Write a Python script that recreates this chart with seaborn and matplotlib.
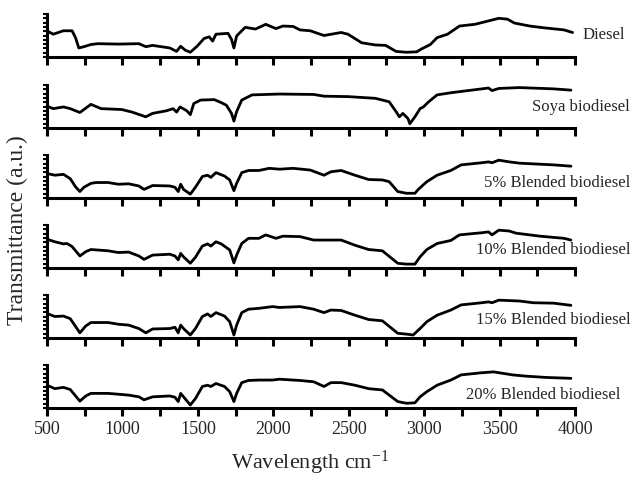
import numpy as np
import pandas as pd
import matplotlib
matplotlib.use("Agg")
import matplotlib.pyplot as plt
import seaborn as sns

# ---- data (wavenumber cm^-1, transmittance a.u.) ----
diesel_wn = [500, 541, 609, 666, 689, 711, 745, 791, 836, 973, 1109, 1155, 1200, 1314, 1359, 1386, 1416, 1450,
             1495, 1541, 1575, 1598, 1620, 1700, 1723, 1739, 1757, 1814, 1882, 1950, 2018, 2064, 2132, 2177,
             2245, 2336, 2450, 2495, 2586, 2677, 2745, 2814, 2882, 2950, 2984, 3041, 3086, 3155, 3234, 3336,
             3405, 3495, 3552, 3598, 3700, 3791, 3927, 3984]
diesel_t = [61, 53, 61, 61, 45, 21, 24, 29, 31, 30, 31, 24, 27, 21, 13, 25, 16, 11,
            25, 43, 47, 37, 53, 55, 41, 21, 49, 69, 65, 76, 66, 72, 71, 63,
            61, 50, 57, 53, 33, 28, 27, 13, 11, 12, 19, 29, 45, 53, 72, 76,
            82, 90, 88, 79, 72, 68, 63, 57]

soya_wn = [500, 541, 609, 654, 718, 791, 859, 995, 1064, 1155, 1200, 1291, 1336, 1359, 1382, 1427, 1450, 1473,
           1518, 1609, 1655, 1689, 1723, 1739, 1757, 1791, 1859, 2041, 2268, 2336, 2495, 2677, 2768, 2814,
           2836, 2859, 2893, 2905, 2939, 2973, 2995, 3030, 3086, 3177, 3314, 3427, 3450, 3495, 3632, 3859, 3973]
soya_t = [51, 45, 49, 45, 36, 55, 45, 43, 37, 26, 34, 40, 45, 37, 49, 40, 31, 57,
          65, 66, 59, 53, 34, 16, 38, 65, 77, 79, 78, 74, 73, 69, 61, 38,
          26, 34, 22, 10, 26, 45, 49, 61, 77, 82, 88, 93, 87, 92, 94, 91, 88]

b5_wn = [500, 552, 609, 654, 689, 718, 745, 791, 825, 905, 973, 1041, 1109, 1143, 1200, 1314, 1348, 1370, 1386,
         1405, 1450, 1484, 1530, 1564, 1586, 1620, 1677, 1711, 1739, 1757, 1791, 1836, 1905, 1973, 2041, 2132,
         2245, 2336, 2382, 2450, 2541, 2632, 2723, 2768, 2825, 2882, 2939, 2961, 3018, 3086, 3177, 3245, 3382,
         3427, 3450, 3495, 3564, 3632, 3859, 3973]
b5_t = [57, 53, 55, 45, 26, 15, 25, 34, 36, 36, 32, 33, 28, 20, 29, 28, 25, 15, 32,
        20, 9, 25, 50, 53, 48, 59, 51, 42, 17, 34, 59, 64, 64, 69, 67, 69,
        65, 53, 61, 64, 53, 43, 42, 38, 15, 11, 11, 20, 38, 53, 64, 77, 82,
        84, 82, 88, 84, 81, 77, 74]

b10_wn = [500, 552, 609, 632, 666, 718, 757, 791, 905, 973, 1041, 1109, 1143, 1200, 1314, 1348, 1370, 1386, 1405,
          1450, 1484, 1530, 1564, 1586, 1620, 1655, 1711, 1739, 1757, 1791, 1836, 1905, 1950, 2018, 2064, 2177,
          2268, 2450, 2541, 2632, 2723, 2825, 2882, 2939, 2973, 3018, 3086, 3177, 3234, 3382, 3427, 3450, 3495,
          3564, 3609, 3768, 3927, 3973]
b10_t = [67, 61, 56, 57, 50, 28, 38, 43, 40, 36, 37, 28, 20, 30, 32, 28, 19, 34, 26,
         11, 25, 51, 56, 51, 61, 56, 42, 12, 30, 57, 69, 69, 77, 69, 74, 73,
         65, 65, 53, 43, 40, 11, 9, 9, 26, 43, 57, 64, 77, 82, 84, 77, 88,
         86, 81, 74, 69, 65]

b15_wn = [500, 552, 609, 654, 718, 757, 791, 905, 973, 1041, 1109, 1155, 1200, 1314, 1348, 1370, 1386, 1405, 1450,
          1484, 1530, 1564, 1586, 1620, 1677, 1711, 1739, 1757, 1791, 1836, 1905, 1995, 2041, 2177, 2268, 2336,
          2382, 2450, 2541, 2632, 2723, 2825, 2882, 2927, 2973, 3018, 3086, 3177, 3245, 3382, 3427, 3450, 3495,
          3632, 3723, 3859, 3973]
b15_t = [57, 50, 51, 45, 12, 28, 36, 36, 32, 30, 22, 12, 21, 22, 25, 12, 30, 22, 7,
         22, 50, 56, 50, 59, 51, 38, 7, 30, 59, 67, 69, 73, 71, 73, 67, 59,
         65, 64, 53, 43, 40, 11, 9, 7, 22, 38, 53, 65, 77, 82, 84, 82, 88,
         86, 82, 81, 76]

b20_wn = [500, 552, 609, 654, 718, 757, 791, 905, 973, 1041, 1109, 1143, 1200, 1314, 1348, 1370, 1386, 1405, 1450,
          1484, 1530, 1564, 1586, 1620, 1677, 1711, 1739, 1757, 1791, 1836, 1905, 1995, 2041, 2177, 2268, 2336,
          2382, 2450, 2541, 2632, 2723, 2825, 2882, 2939, 2973, 3018, 3086, 3177, 3245, 3382, 3461, 3586, 3677,
          3814, 3973]
b20_t = [53, 45, 48, 43, 16, 28, 34, 34, 32, 30, 26, 19, 26, 28, 25, 15, 34, 26, 7,
         22, 50, 53, 50, 57, 50, 38, 15, 34, 59, 64, 65, 65, 67, 64, 61, 50,
         59, 59, 53, 45, 42, 15, 11, 12, 26, 38, 53, 65, 77, 82, 84, 77, 74,
         71, 69]

sample_names = ["Diesel", "Soya biodiesel", "5% Blended biodiesel", "10% Blended biodiesel",
                "15% Blended biodiesel", "20% Blended biodiesel"]
series = [(diesel_wn, diesel_t), (soya_wn, soya_t), (b5_wn, b5_t),
          (b10_wn, b10_t), (b15_wn, b15_t), (b20_wn, b20_t)]
tick_values = [500, 1000, 1500, 2000, 2500, 3000, 3500, 4000]

# ---- style ----
sns.set_style("ticks")
plt.rcParams['font.family'] = ['Liberation Serif', 'DejaVu Serif']
plt.rcParams['mathtext.fontset'] = 'custom'
plt.rcParams['mathtext.rm'] = 'Liberation Serif'
plt.rcParams['mathtext.it'] = 'Liberation Serif:italic'

fig = plt.figure(figsize=(6.34, 4.8), dpi=100)

left, width, height = 47 / 634, 528 / 634, 43 / 480
bottoms_px = [57, 128, 198, 268, 338, 408]
label_pos = [(0.986, 0.927), (0.994, 0.777), (0.994, 0.619),
             (0.994, 0.479), (0.994, 0.333), (0.978, 0.177)]

for i, ((wn, t), name) in enumerate(zip(series, sample_names)):
    b = (480 - bottoms_px[i]) / 480
    ax = fig.add_axes([left, b, width, height])
    df = pd.DataFrame({"wn": wn, "t": t})
    sns.lineplot(data=df, x="wn", y="t", ax=ax, color="black", linewidth=2.0)
    ax.set_xlim(500, 4000)
    ax.set_ylim(0, 100)
    sns.despine(ax=ax, top=True, right=True)
    for s in ("left", "bottom"):
        ax.spines[s].set_linewidth(2.2)
        ax.spines[s].set_color("black")
    ax.set_xticks(tick_values)
    ax.set_xticks([750, 1250, 1750, 2250, 2750, 3250, 3750], minor=True)
    ax.tick_params(axis="x", which="both", direction="out", length=6, width=2.2, color="black")
    ax.set_yticks(np.linspace(0, 100, 11))
    ax.tick_params(axis="y", which="both", direction="out", length=3, width=1.5, color="black")
    ax.set_yticklabels([])
    ax.set_xlabel("")
    ax.set_ylabel("")
    if i < 5:
        ax.set_xticklabels([])
    else:
        ax.set_xticklabels([str(v) for v in tick_values], fontsize=13)
    ax.patch.set_alpha(0)
    fig.text(label_pos[i][0], label_pos[i][1], name, ha="right", va="center", fontsize=12)

fig.text(0.028, 0.52, "Transmittance (a.u.)", rotation=90, ha="center", va="center", fontsize=17)
fig.text(0.489, 0.035, "Wavelength cm$^{-1}$", ha="center", va="center", fontsize=16)

fig.savefig("out.png", dpi=100)
